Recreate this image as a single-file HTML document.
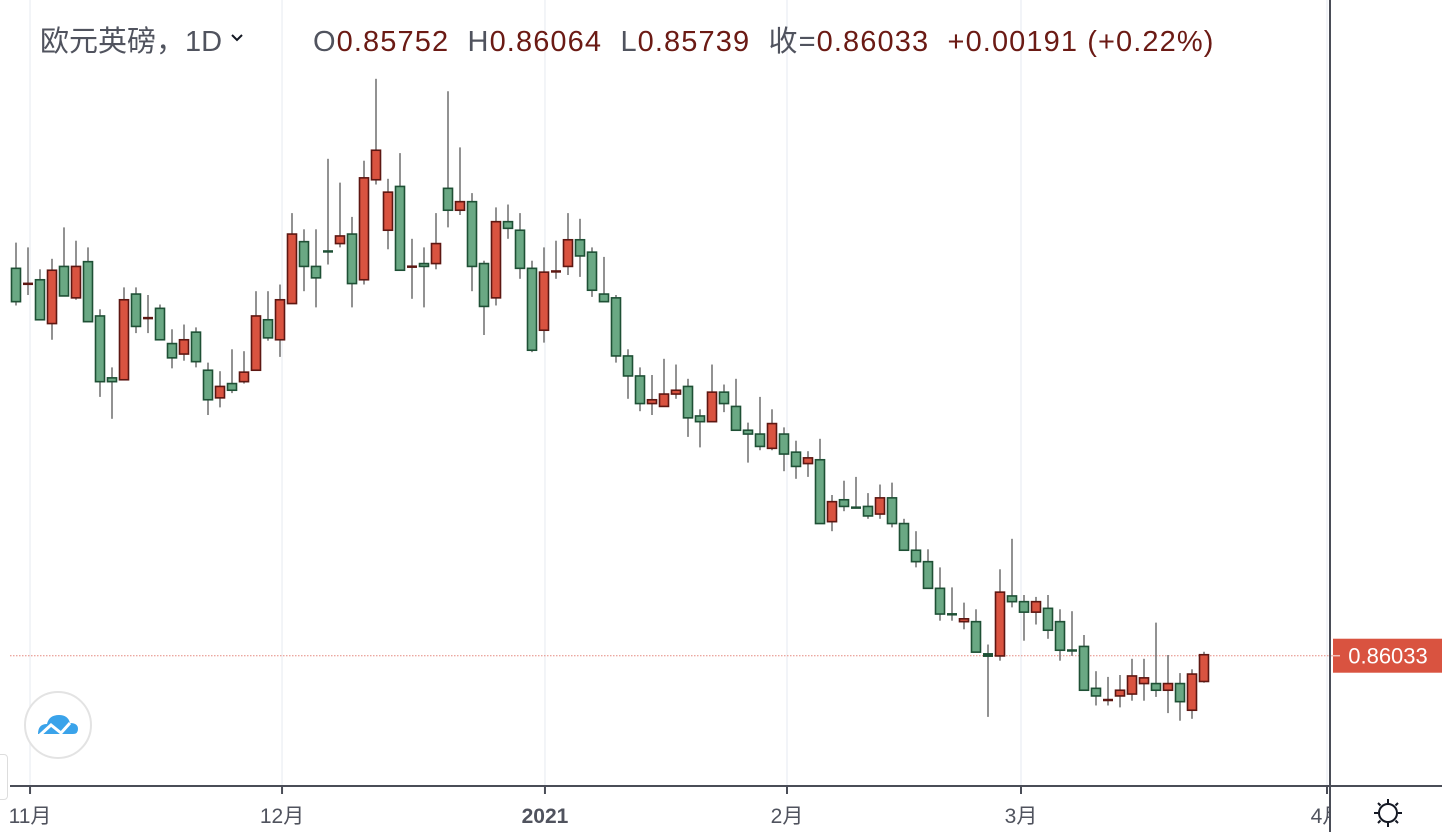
<!DOCTYPE html>
<html><head><meta charset="utf-8"><style>
body{margin:0;width:1442px;height:832px;overflow:hidden;background:#fff;font-family:"Liberation Sans","Noto Sans CJK SC",sans-serif}
#c{position:absolute;left:0;top:0}
</style></head><body>
<svg id="c" width="1442" height="832">
<g id="grid"></g>
<g id="candles"></g>
<g id="overlay"></g>
</svg>
<script>
const opens=[0.9009,0.8993,0.8997,0.8951,0.9011,0.8978,0.9016,0.8959,0.8894,0.8892,0.8982,0.8957,0.8967,0.8930,0.8919,0.8942,0.8902,0.8873,0.8888,0.8890,0.8902,0.8955,0.8934,0.8972,0.9037,0.9011,0.9027,0.9035,0.9045,0.8997,0.9102,0.9049,0.9095,0.9011,0.9014,0.9014,0.9093,0.9070,0.9079,0.9014,0.8978,0.9058,0.9049,0.9009,0.8944,0.9006,0.9011,0.9039,0.9026,0.8982,0.8978,0.8917,0.8896,0.8867,0.8864,0.8877,0.8885,0.8854,0.8848,0.8879,0.8864,0.8839,0.8835,0.8820,0.8835,0.8816,0.8804,0.8808,0.8743,0.8766,0.8758,0.8759,0.8751,0.8768,0.8741,0.8713,0.8701,0.8673,0.8646,0.8638,0.8638,0.8604,0.8602,0.8665,0.8659,0.8648,0.8652,0.8638,0.8608,0.8612,0.8568,0.8556,0.8560,0.8562,0.8573,0.8573,0.8566,0.8573,0.8545,0.85752];
const highs=[0.9036,0.9031,0.9008,0.9019,0.9052,0.9038,0.9031,0.8966,0.8905,0.8989,0.8989,0.8981,0.8971,0.8945,0.8950,0.8947,0.8910,0.8901,0.8924,0.8922,0.8985,0.8985,0.8992,0.9067,0.9050,0.9050,0.9124,0.9099,0.9063,0.9122,0.9208,0.9103,0.9130,0.9040,0.9031,0.9067,0.9195,0.9136,0.9088,0.9017,0.9073,0.9076,0.9067,0.9017,0.9031,0.9038,0.9067,0.9061,0.9031,0.9021,0.8981,0.8924,0.8905,0.8897,0.8914,0.8908,0.8893,0.8861,0.8908,0.8887,0.8893,0.8847,0.8874,0.8861,0.8842,0.8828,0.8817,0.8830,0.8771,0.8786,0.8790,0.8773,0.8782,0.8784,0.8746,0.8733,0.8714,0.8695,0.8674,0.8658,0.8651,0.8614,0.8693,0.8725,0.8666,0.8664,0.8666,0.8651,0.8649,0.8624,0.8586,0.8580,0.8582,0.8599,0.8599,0.8637,0.8603,0.8584,0.8588,0.86064];
const lows=[0.8970,0.8981,0.8955,0.8934,0.8980,0.8976,0.8953,0.8874,0.8851,0.8892,0.8941,0.8941,0.8934,0.8904,0.8912,0.8905,0.8855,0.8863,0.8878,0.8888,0.8902,0.8933,0.8916,0.8972,0.8985,0.8968,0.9013,0.9031,0.8968,0.8992,0.9097,0.9029,0.9007,0.8977,0.8968,0.9008,0.9052,0.9065,0.8985,0.8939,0.8970,0.9040,0.8998,0.8921,0.8931,0.8998,0.9002,0.9000,0.8979,0.8974,0.8910,0.8872,0.8859,0.8855,0.8864,0.8872,0.8832,0.8821,0.8848,0.8858,0.8839,0.8805,0.8818,0.8818,0.8796,0.8788,0.8790,0.8741,0.8733,0.8754,0.8758,0.8746,0.8746,0.8737,0.8713,0.8695,0.8673,0.8639,0.8639,0.8630,0.8606,0.8538,0.8597,0.8653,0.8618,0.8635,0.8620,0.8597,0.8602,0.8566,0.8550,0.8550,0.8548,0.8555,0.8555,0.8559,0.8542,0.8534,0.8536,0.85739];
const closes=[0.8974,0.8993,0.8955,0.9007,0.8980,0.9011,0.8953,0.8890,0.8890,0.8976,0.8948,0.8957,0.8934,0.8915,0.8934,0.8911,0.8871,0.8885,0.8881,0.8900,0.8959,0.8936,0.8976,0.9045,0.9011,0.8999,0.9027,0.9043,0.8993,0.9104,0.9133,0.9089,0.9007,0.9011,0.9011,0.9035,0.9070,0.9079,0.9011,0.8969,0.9058,0.9051,0.9009,0.8923,0.9005,0.9006,0.9039,0.9022,0.8986,0.8974,0.8917,0.8896,0.8867,0.8871,0.8877,0.8881,0.8852,0.8848,0.8879,0.8867,0.8839,0.8835,0.8822,0.8846,0.8814,0.8801,0.8810,0.8741,0.8764,0.8759,0.8758,0.8749,0.8768,0.8741,0.8713,0.8701,0.8673,0.8646,0.8646,0.8641,0.8606,0.8602,0.8669,0.8659,0.8648,0.8659,0.8629,0.8608,0.8608,0.8566,0.8560,0.8556,0.8566,0.8581,0.8579,0.8566,0.8573,0.8554,0.8583,0.86033];
const monthLabels=["11月","12月","2021","2月","3月","4月"];
const monthIndex=[1.17,22.17,44.08,64.25,83.75,109.25];
const lastPrice=0.86033;

const NS="http://www.w3.org/2000/svg";
const xOf=i=>16+12*i;
const yOf=p=>655-(p-0.8603)*9523.8;
function mk(tag,attrs,parent){const e=document.createElementNS(NS,tag);for(const k in attrs)e.setAttribute(k,attrs[k]);parent.appendChild(e);return e;}
const grid=document.getElementById('grid'),cg=document.getElementById('candles'),ov=document.getElementById('overlay');

monthIndex.forEach((mi,k)=>{
  const x=xOf(mi);
  const gl=mk('line',{x1:x,y1:0,x2:x,y2:786,stroke:'#eef1f5','stroke-width':1.5},grid);
  
  
  const tk=mk('line',{x1:x,y1:786,x2:x,y2:794,stroke:'#4a4d57','stroke-width':2},ov);
  
  
  const t=mk('text',{x:x,y:823,'text-anchor':'middle','font-size':21,fill:'#50535e','font-weight':monthLabels[k]==='2021'?'bold':'normal'},ov);
  t.textContent=monthLabels[k];
  
  
});

const lp=mk('line',{x1:10,y1:yOf(lastPrice)+1,x2:1330,y2:yOf(lastPrice)+1,stroke:'#e58a80','stroke-width':1,'stroke-dasharray':'1.5 1.5'},grid);



for(let i=0;i<opens.length;i++){
  const o=opens[i],h=highs[i],l=lows[i],c=closes[i];
  const x=xOf(i);
  const up=c>o, doji=Math.abs(c-o)<0.00005;
  const g=mk('g',{},cg);
  
  
  mk('line',{x1:x,y1:yOf(h),x2:x,y2:yOf(l),stroke:'#777','stroke-width':1.6},g);
  const top=yOf(Math.max(o,c)),bot=yOf(Math.min(o,c));
  const fill=up?'#d95340':'#6aa884', stroke=up?'#5d1712':'#1e5035';
  if(doji||bot-top<2){
    mk('rect',{x:x-5,y:top-1,width:10,height:Math.max(2.5,bot-top+2),fill:o<c||doji&&i%2?'#5d1712':stroke},g);
  } else {
    mk('rect',{x:x-4.5,y:top,width:9,height:bot-top,fill:fill,stroke:stroke,'stroke-width':1.6},g);
  }
}

const ax=mk('line',{x1:10,y1:786,x2:1442,y2:786,stroke:'#4a4d57','stroke-width':2},ov);

const ay=mk('line',{x1:1330,y1:0,x2:1330,y2:832,stroke:'#4a4d57','stroke-width':2},ov);

const wb=mk('rect',{x:1331,y:0,width:111,height:785,fill:'#fff'},ov);

const wb2=mk('rect',{x:1331,y:787,width:111,height:45,fill:'#fff'},ov);

const pl=mk('rect',{x:1333,y:yOf(lastPrice)-16,width:109,height:34,fill:'#d95340'},ov);

mk('line',{x1:1331,y1:yOf(lastPrice)+1,x2:1340,y2:yOf(lastPrice)+1,stroke:'#f2c0ba','stroke-width':1.5},ov);
const pt=mk('text',{x:1388,y:yOf(lastPrice)+9,'text-anchor':'middle','font-size':22,fill:'#fff'},ov);
pt.textContent=lastPrice.toFixed(5);

</script>
<svg style="position:absolute;left:1372px;top:797px" width="32" height="32" viewBox="0 0 32 32">
<circle cx="16" cy="16" r="9" fill="none" stroke="#131722" stroke-width="2"/>
<g stroke="#131722" stroke-width="2"><line x1="16" y1="2" x2="16" y2="6"/><line x1="16" y1="26" x2="16" y2="30"/><line x1="2" y1="16" x2="6" y2="16"/><line x1="26" y1="16" x2="30" y2="16"/><line x1="6" y1="6" x2="8.5" y2="8.5"/><line x1="26" y1="6" x2="23.5" y2="8.5"/><line x1="6" y1="26" x2="8.5" y2="23.5"/><line x1="26" y1="26" x2="23.5" y2="23.5"/></g>
</svg>
<div style="position:absolute;left:24px;top:691px;width:64px;height:64px;border:2px solid #e3e3e3;border-radius:50%;background:#fff">
<svg width="64" height="64" viewBox="0 0 64 64">
<path d="M12 41 Q12 31 21 31 Q23 22 33 22 Q42 22 44 30 Q52 30 52 36 Q52 41 47 41 Z" fill="#3aa3ea"/>
<polyline points="14,42 25,32 35,40 44,30" fill="none" stroke="#fff" stroke-width="3"/>
</svg></div>
<div style="position:absolute;left:-6px;top:754px;width:12px;height:44px;border:1px solid #ddd;border-radius:4px;background:#fff"></div>
<div style="position:absolute;left:40px;top:22px;font-size:29px;color:#50535e;white-space:nowrap;line-height:40px">
<span>欧元英磅，1D <svg width="14" height="10" viewBox="0 0 14 10" style="position:relative;top:-8px"><polyline points="2,2 7,7 12,2" fill="none" stroke="#131722" stroke-width="2"/></svg></span>
</div>
<div style="position:absolute;left:313px;top:22px;font-size:29px;letter-spacing:1.1px;color:#50535e;white-space:nowrap;line-height:40px">
<span>O</span><span style="color:#6b1a14">0.85752</span>&nbsp;&nbsp;<span>H</span><span style="color:#6b1a14">0.86064</span>&nbsp;&nbsp;<span>L</span><span style="color:#6b1a14">0.85739</span>&nbsp;&nbsp;<span>收=</span><span style="color:#6b1a14">0.86033</span>&nbsp;&nbsp;<span style="color:#6b1a14">+0.00191 (+0.22%)</span>
</div>
</body></html>
